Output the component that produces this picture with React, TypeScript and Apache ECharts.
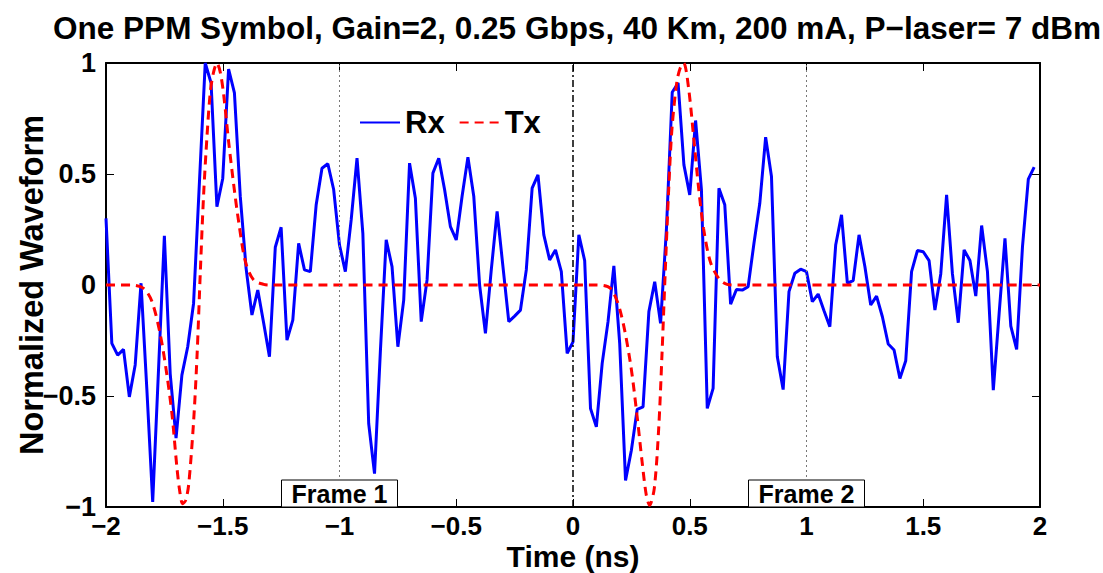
import React, { useEffect, useRef } from "react";
import * as echarts from "echarts";

const titleText = "One PPM Symbol, Gain=2, 0.25 Gbps, 40 Km, 200 mA, P\u2212laser= 7 dBm";
const xAxisName = "Time (ns)";
const yAxisName = "Normalized Waveform";
const seriesNames = ["Rx", "Tx"];

// Rx samples: start time and sample step (ns)
const rxStart = -2;
const rxStep = 0.025;
const rxValues = [
  0.30, -0.263, -0.316, -0.29, -0.504, -0.36, 0.008, -0.47, -0.977, -0.38,
  0.221, -0.4, -0.69, -0.406, -0.278, -0.083, 0.46, 1.0, 0.91, 0.353,
  0.48, 0.973, 0.865, 0.4, 0.075, -0.135, -0.023, -0.17, -0.323, 0.17,
  0.26, -0.248, -0.158, 0.188, 0.068, 0.06, 0.36, 0.526, 0.546, 0.43,
  0.18, 0.06, 0.293, 0.571, 0.233, -0.624, -0.85, -0.3, 0.203, 0.083,
  -0.278, -0.068, 0.549, 0.391, -0.165, 0.023, 0.504, 0.571, 0.43, 0.263,
  0.203, 0.4, 0.576, 0.4, 0.0, -0.218, 0.068, 0.331, 0.083, -0.165,
  -0.14, -0.113, 0.068, 0.436, 0.496, 0.226, 0.113, 0.158, 0.06, -0.308,
  -0.256, 0.226, 0.11, -0.556, -0.639, -0.353, -0.165, 0.086, -0.263, -0.88,
  -0.744, -0.56, -0.549, -0.12, 0.015, -0.173, 0.248, 0.868, 0.91, 0.541,
  0.406, 0.741, 0.43, -0.556, -0.466, 0.436, 0.361, -0.086, -0.02, -0.023,
  -0.008, 0.188, 0.368, 0.666, 0.489, -0.323, -0.471, -0.03, 0.053, 0.071,
  0.06, -0.075, -0.041, -0.116, -0.188, 0.18, 0.316, 0.008, 0.02, 0.226,
  0.083, -0.09, -0.05, -0.143, -0.266, -0.293, -0.421, -0.341, 0.06, 0.155,
  0.15, 0.11, -0.113, 0.05, 0.406, 0.05, -0.17, 0.158, 0.11, -0.05,
  0.268, 0.06, -0.474, -0.128, 0.21, -0.185, -0.29, 0.173, 0.477, 0.531,
];

// Tx waveform points (time in ns, value)
const txTime = [
  -2, -1.896, -1.839, -1.803, -1.767, -1.739, -1.717, -1.696, -1.684, -1.672, -1.659, -1.646,
  -1.625, -1.61, -1.596, -1.582, -1.567, -1.553, -1.539, -1.525, -1.511, -1.496, -1.475,
  -1.453, -1.432, -1.403, -1.368, -1.325, -1.29,
  0.1, 0.16, 0.203, 0.245, 0.274, 0.296, 0.314, 0.328, 0.348, 0.367, 0.381, 0.395,
  0.41, 0.424, 0.445, 0.46, 0.474, 0.495, 0.517, 0.538, 0.559, 0.588, 0.624, 0.66, 0.7,
  2,
];
const txValue = [
  0, 0, -0.015, -0.075, -0.226, -0.406, -0.586, -0.825, -0.93, -0.985, -0.97, -0.9,
  -0.617, -0.316, 0.06, 0.406, 0.677, 0.872, 0.96, 1.0, 0.96, 0.857, 0.647,
  0.451, 0.286, 0.105, 0.023, 0.003, 0,
  0, -0.015, -0.12, -0.346, -0.586, -0.797, -0.947, -0.992, -0.917, -0.646, -0.316, 0.06,
  0.436, 0.707, 0.917, 0.98, 1.0, 0.887, 0.662, 0.436, 0.256, 0.105, 0.03, 0.003, 0,
  0,
];

const xMin = -2;
const xMax = 2;
const xInterval = 0.5;
const yMin = -1;
const yMax = 1;
const yInterval = 0.5;
const dottedLines = [-1, 1];
const symbolBoundary = 0;
const frameLabels = ["Frame 1", "Frame 2"];
const frameCenters = [-1, 1];

const FONT = "'Liberation Sans', Arial, Helvetica, sans-serif";

function fmt(v: number): string {
  if (v === 0) return "0";
  return v < 0 ? "\u2212" + String(-v) : String(v);
}

export default function App() {
  const ref = useRef<HTMLDivElement>(null);
  useEffect(() => {
    if (!ref.current) return;
    const chart = echarts.init(ref.current, null, { renderer: "svg" });
    const rxData = rxValues.map((v, i) => [rxStart + i * rxStep, v]);
    const txData = txTime.map((t, i) => [t, txValue[i]]);

    const tickStyle = { show: true, inside: true, length: 8, lineStyle: { color: "#000", width: 1 } };
    const axisLine = { show: true, onZero: false, lineStyle: { color: "#000", width: 2 } };

    chart.setOption({
      animation: false,
      textStyle: { fontFamily: FONT },
      title: {
        text: titleText,
        left: 572,
        top: 7,
        textAlign: "center",
        textStyle: { fontFamily: FONT, fontWeight: "bold", fontSize: 31.5, color: "#000" },
      },
      legend: {
        left: 354,
        top: 102,
        itemWidth: 40,
        itemHeight: 14,
        itemGap: 14,
        data: seriesNames,
        itemStyle: { opacity: 0 },
        textStyle: { fontFamily: FONT, fontWeight: "bold", fontSize: 31, color: "#000" },
      },
      grid: {
        left: 106,
        right: 63,
        top: 63,
        bottom: 66,
        containLabel: false,
        outerBoundsMode: "none",
      },
      xAxis: [
        {
          type: "value",
          min: xMin,
          max: xMax,
          interval: xInterval,
          position: "bottom",
          axisLine,
          axisTick: tickStyle,
          splitLine: { show: false },
          axisLabel: {
            formatter: fmt,
            fontSize: 26,
            fontWeight: "bold",
            color: "#000",
            fontFamily: FONT,
            margin: 6,
          },
          name: xAxisName,
          nameLocation: "middle",
          nameGap: 34,
          nameMoveOverlap: false,
          nameTextStyle: { fontFamily: FONT, fontWeight: "bold", fontSize: 30, color: "#000" },
        },
        {
          type: "value",
          min: xMin,
          max: xMax,
          interval: xInterval,
          position: "top",
          axisLine,
          axisTick: tickStyle,
          splitLine: { show: false },
          axisLabel: { show: false },
        },
      ],
      yAxis: [
        {
          type: "value",
          min: yMin,
          max: yMax,
          interval: yInterval,
          position: "left",
          axisLine,
          axisTick: tickStyle,
          splitLine: { show: false },
          axisLabel: {
            formatter: fmt,
            fontSize: 27,
            fontWeight: "bold",
            color: "#000",
            fontFamily: FONT,
            margin: 10,
          },
          name: yAxisName,
          nameLocation: "middle",
          nameGap: 58,
          nameMoveOverlap: false,
          nameTextStyle: { fontFamily: FONT, fontWeight: "bold", fontSize: 32.5, color: "#000" },
        },
        {
          type: "value",
          min: yMin,
          max: yMax,
          interval: yInterval,
          position: "right",
          axisLine,
          axisTick: tickStyle,
          splitLine: { show: false },
          axisLabel: { show: false },
        },
      ],
      series: [
        {
          name: seriesNames[0],
          type: "line",
          data: rxData,
          symbol: "none",
          lineStyle: { color: "#0000ff", width: 3 },
          itemStyle: { color: "#0000ff" },
          z: 3,
          markLine: {
            silent: true,
            symbol: "none",
            label: { show: false },
            data: [
              ...dottedLines.map((x) => ({
                xAxis: x,
                lineStyle: { color: "#777", width: 1, type: [2, 3] },
              })),
              {
                xAxis: symbolBoundary,
                lineStyle: { color: "#000", width: 1.5, type: [7, 3, 2, 3] },
              },
            ],
          },
        },
        {
          name: seriesNames[1],
          type: "line",
          data: txData,
          symbol: "none",
          smooth: 0.3,
          lineStyle: { color: "#ff0000", width: 3, type: [9, 6] },
          itemStyle: { color: "#ff0000" },
          z: 4,
        },
      ],
    });

    const bottom = chart.convertToPixel({ yAxisIndex: 0 }, yMin) as number;
    const graphics: any[] = [];
    frameLabels.forEach((label, i) => {
      const cx = chart.convertToPixel({ xAxisIndex: 0 }, frameCenters[i]) as number;
      graphics.push({
        type: "rect",
        shape: { x: cx - 58, y: bottom - 27, width: 116, height: 27 },
        style: { fill: "#fff", stroke: "#000", lineWidth: 1 },
        z: 10,
      });
      graphics.push({
        type: "text",
        x: cx,
        y: bottom - 13,
        style: {
          text: label,
          font: `bold 25px ${FONT}`,
          fill: "#000",
          textAlign: "center",
          textVerticalAlign: "middle",
        },
        z: 11,
      });
    });
    chart.setOption({ graphic: graphics });

    return () => chart.dispose();
  }, []);

  return (
    <div
      ref={ref}
      style={{ position: "absolute", left: 0, top: 0, width: 1103, height: 573, background: "#fff" }}
    />
  );
}
